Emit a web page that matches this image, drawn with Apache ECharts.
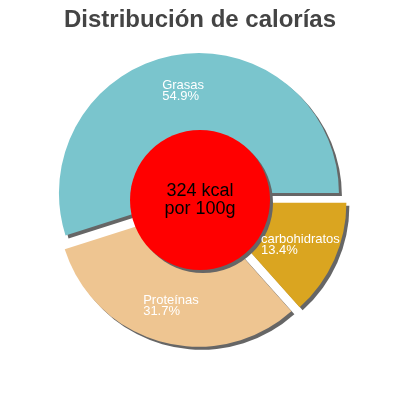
<!DOCTYPE html>
<html>
<head>
<meta charset="utf-8">
<script src="https://cdn.jsdelivr.net/npm/echarts@6/dist/echarts.min.js"></script>
<style>
html,body{margin:0;padding:0;background:#fff;}
#c{width:400px;height:400px;}
</style>
</head>
<body>
<div id="c"></div>
<script>
var titleText = 'Distribución de calorías';
var categories = ['Grasas', 'Proteínas', 'carbohidratos'];
var percents = [54.9, 31.7, 13.4];
var sliceColors = ['#7AC5CD', '#EEC591', '#DAA520'];
var energyKcal = 324;
var centerLines = [energyKcal + ' kcal', 'por 100g'];

var FONT = 'Liberation Sans, Arial, sans-serif';
var shadow = { shadowColor: '#666666', shadowOffsetX: 3, shadowOffsetY: 3, shadowBlur: 0 };

function sliceData(withColor) {
  return categories.map(function (name, i) {
    var item = { name: name, value: percents[i], selected: true };
    item.itemStyle = withColor
      ? Object.assign({ color: sliceColors[i], borderWidth: 0 }, shadow)
      : { color: 'rgba(0,0,0,0)', borderWidth: 0 };
    return item;
  });
}

var chart = echarts.init(document.getElementById('c'), null, { renderer: 'canvas' });
chart.setOption({
  animation: false,
  backgroundColor: '#ffffff',
  title: {
    text: titleText,
    left: 'center',
    top: 3,
    textStyle: { fontFamily: FONT, fontSize: 24, fontWeight: 'bold', color: '#444444' }
  },
  series: [
    {
      type: 'pie',
      center: ['50%', '50%'],
      radius: [0, 140],
      startAngle: 0,
      clockwise: false,
      selectedMode: 'multiple',
      selectedOffset: 7,
      silent: true,
      label: { show: false },
      labelLine: { show: false },
      emphasis: { disabled: true },
      data: sliceData(true),
      z: 1
    },
    {
      type: 'pie',
      center: ['50%', '50%'],
      radius: [0, 70],
      silent: true,
      emphasis: { disabled: true },
      itemStyle: Object.assign({ color: '#FF0000', borderWidth: 0 }, shadow),
      label: {
        show: true,
        position: 'center',
        formatter: centerLines.join('\n'),
        fontFamily: FONT,
        fontSize: 18,
        lineHeight: 18,
        color: '#000000'
      },
      labelLine: { show: false },
      data: [{ name: 'kcal', value: 1 }],
      z: 2
    },
    {
      type: 'pie',
      center: ['50%', '50%'],
      radius: [60, 140],
      startAngle: 0,
      clockwise: false,
      selectedMode: 'multiple',
      selectedOffset: 7,
      silent: true,
      emphasis: { disabled: true },
      labelLine: { show: false },
      label: {
        show: true,
        position: 'inside',
        formatter: function (p) { return '{a|' + p.name + '}\n{a|' + p.value.toFixed(1) + '%}'; },
        rich: {
          a: { fontFamily: FONT, fontSize: 13, lineHeight: 11, color: '#ffffff', align: 'left' }
        }
      },
      data: sliceData(false),
      z: 3
    }
  ]
});
</script>
</body>
</html>
